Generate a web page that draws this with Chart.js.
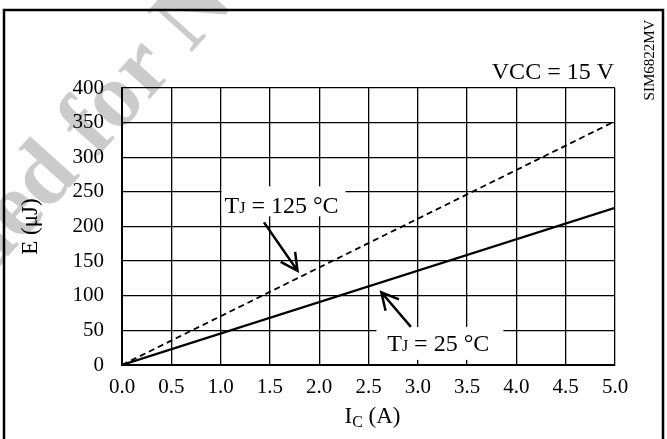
<!DOCTYPE html>
<html>
<head>
<meta charset="utf-8">
<script src="https://cdn.jsdelivr.net/npm/chart.js@4.4.1/dist/chart.umd.min.js"></script>
<style>
  html, body { margin: 0; padding: 0; background: #fff; }
  canvas { display: block; }
</style>
</head>
<body>
<canvas id="grafico" width="667" height="439"></canvas>
<script>
// datos
const corriente = [0, 5.0];            // I_C (A)
const energia25 = [0, 227];            // E (uJ) a Tj = 25 C
const energia125 = [0, 352];           // E (uJ) a Tj = 125 C
const ticksX = [0, 0.5, 1, 1.5, 2, 2.5, 3, 3.5, 4, 4.5, 5];
const ticksY = [0, 50, 100, 150, 200, 250, 300, 350, 400];

const FUENTE = '"Liberation Serif", "Times New Roman", serif';

function puntos(xs, ys) {
  return xs.map((x, i) => ({ x: x, y: ys[i] }));
}

// flecha con punta abierta
function flecha(ctx, x1, y1, x2, y2) {
  const ang = Math.atan2(y2 - y1, x2 - x1);
  const largo = 19, abre = 0.48;
  ctx.beginPath();
  ctx.moveTo(x1, y1);
  ctx.lineTo(x2, y2);
  ctx.moveTo(x2 - largo * Math.cos(ang - abre), y2 - largo * Math.sin(ang - abre));
  ctx.lineTo(x2, y2);
  ctx.lineTo(x2 - largo * Math.cos(ang + abre), y2 - largo * Math.sin(ang + abre));
  ctx.stroke();
}

// "TJ = 125 °C" con la J pequena
function etiquetaTj(ctx, x, y, resto) {
  ctx.textAlign = "left";
  ctx.textBaseline = "alphabetic";
  ctx.font = "24px " + FUENTE;
  ctx.fillText("T", x, y);
  let w = ctx.measureText("T").width;
  ctx.font = "16px " + FUENTE;
  ctx.fillText("J", x + w, y);
  w += ctx.measureText("J").width;
  ctx.font = "24px " + FUENTE;
  ctx.fillText(resto, x + w, y);
}

const extras = {
  id: "extras",
  beforeDraw(chart) {
    const ctx = chart.ctx;
    ctx.save();
    ctx.fillStyle = "#fff";
    ctx.fillRect(0, 0, chart.width, chart.height);
    // marca de agua
    const ang = -48 * Math.PI / 180;
    ctx.font = "bold 92px " + FUENTE;
    const prefijo = ctx.measureText("Not Recommended ").width;
    const anchoFor = ctx.measureText("for").width;
    ctx.translate(136, 114);
    ctx.rotate(ang);
    ctx.fillStyle = "#cbcbcb";
    ctx.textBaseline = "alphabetic";
    ctx.fillText("Not Recommended for New Design", -(prefijo + anchoFor / 2), 0);
    ctx.restore();
    // marco exterior
    ctx.save();
    ctx.strokeStyle = "#000";
    ctx.lineWidth = 2.5;
    ctx.beginPath();
    ctx.moveTo(4, 445);
    ctx.lineTo(4, 10);
    ctx.lineTo(663, 10);
    ctx.lineTo(663, 445);
    ctx.stroke();
    ctx.restore();
  },
  afterDraw(chart) {
    const ctx = chart.ctx;
    const sx = chart.scales.x, sy = chart.scales.y;
    const area = chart.chartArea;
    ctx.save();
    ctx.fillStyle = "#000";
    ctx.strokeStyle = "#000";

    // cuadros blancos de las etiquetas
    ctx.fillStyle = "#fff";
    ctx.fillRect(sx.getPixelForValue(1.01), sy.getPixelForValue(258), 124, 30);
    ctx.fillRect(sx.getPixelForValue(2.58), sy.getPixelForValue(55), 127, 33);
    ctx.fillStyle = "#000";
    etiquetaTj(ctx, sx.getPixelForValue(1.04), sy.getPixelForValue(220), " = 125 \u00B0C");
    etiquetaTj(ctx, sx.getPixelForValue(2.69), sy.getPixelForValue(20), " = 25 \u00B0C");

    ctx.lineWidth = 2.5;
    flecha(ctx, sx.getPixelForValue(1.44), sy.getPixelForValue(206),
                sx.getPixelForValue(1.78), sy.getPixelForValue(136));
    flecha(ctx, sx.getPixelForValue(2.93), sy.getPixelForValue(55),
                sx.getPixelForValue(2.63), sy.getPixelForValue(105));

    // condicion de prueba
    ctx.font = "24px " + FUENTE;
    ctx.textAlign = "right";
    ctx.textBaseline = "alphabetic";
    ctx.fillText("VCC = 15 V", area.right - 1, area.top - 9);

    // codigo de figura
    ctx.save();
    ctx.translate(650, 60);
    ctx.rotate(-Math.PI / 2);
    ctx.font = "15px " + FUENTE;
    ctx.textAlign = "center";
    ctx.textBaseline = "middle";
    ctx.fillText("SIM6822MV", 0, 0);
    ctx.restore();

    // titulo eje x: I_C (A)
    ctx.textAlign = "left";
    ctx.font = "23px " + FUENTE;
    const wI = ctx.measureText("I").width;
    ctx.font = "16px " + FUENTE;
    const wC = ctx.measureText("C").width;
    ctx.font = "23px " + FUENTE;
    const wA = ctx.measureText(" (A)").width;
    let x0 = (area.left + area.right) / 2 - (wI + wC + wA) / 2 + 4;
    const yb = 423;
    ctx.fillText("I", x0, yb);
    ctx.font = "16px " + FUENTE;
    ctx.fillText("C", x0 + wI, yb + 4);
    ctx.font = "23px " + FUENTE;
    ctx.fillText(" (A)", x0 + wI + wC, yb);

    // titulo eje y
    ctx.save();
    ctx.translate(31, (area.top + area.bottom) / 2);
    ctx.rotate(-Math.PI / 2);
    ctx.textAlign = "center";
    ctx.textBaseline = "middle";
    ctx.font = "23px " + FUENTE;
    ctx.fillText("E (\u03BCJ)", 0, 0);
    ctx.restore();

    ctx.restore();
  }
};

const ctx = document.getElementById("grafico").getContext("2d");
new Chart(ctx, {
  type: "scatter",
  data: {
    datasets: [
      {
        label: "Tj = 25 °C",
        data: puntos(corriente, energia25),
        showLine: true,
        borderColor: "#000",
        borderWidth: 2.2,
        pointRadius: 0,
        fill: false,
      },
      {
        label: "Tj = 125 °C",
        data: puntos(corriente, energia125),
        showLine: true,
        borderColor: "#000",
        borderWidth: 1.8,
        borderDash: [6, 4],
        pointRadius: 0,
        fill: false,
      },
    ],
  },
  options: {
    responsive: false,
    animation: false,
    events: [],
    layout: { padding: { left: 0, top: 88, right: 52, bottom: 0 } },
    plugins: {
      legend: { display: false },
      tooltip: { enabled: false },
    },
    scales: {
      x: {
        type: "linear",
        min: 0,
        max: 5,
        afterBuildTicks: (s) => { s.ticks = ticksX.map((v) => ({ value: v })); },
        afterFit: (s) => { s.height = 74; },
        grid: { color: "#000", lineWidth: 1.3, drawTicks: false },
        border: { color: "#000", width: 2 },
        ticks: {
          color: "#000",
          font: { family: FUENTE, size: 21 },
          padding: 10,
          maxRotation: 0,
          callback: (v) => v.toFixed(1),
        },
      },
      y: {
        type: "linear",
        min: 0,
        max: 400,
        afterBuildTicks: (s) => { s.ticks = ticksY.map((v) => ({ value: v })); },
        afterFit: (s) => { s.width = 122; },
        grid: { color: "#000", lineWidth: 1.3, drawTicks: false },
        border: { color: "#000", width: 2 },
        ticks: {
          color: "#000",
          font: { family: FUENTE, size: 21 },
          padding: 18,
        },
      },
    },
  },
  plugins: [extras],
});
</script>
</body>
</html>
